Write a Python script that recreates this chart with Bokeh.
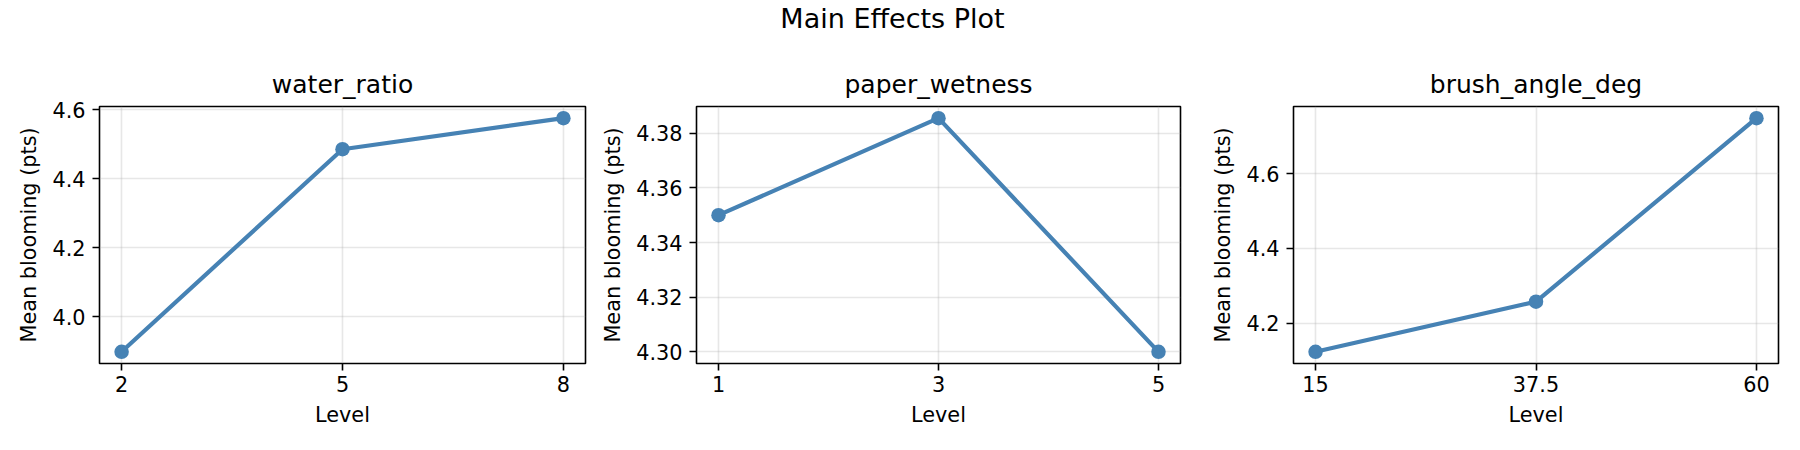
from bokeh.plotting import figure
from bokeh.layouts import column, row
from bokeh.models import Range1d, FixedTicker
from bokeh.embed import file_html
from bokeh.resources import INLINE

# ---- data ----
factors = ["water_ratio", "paper_wetness", "brush_angle_deg"]
water_levels = [2, 5, 8]
water_means = [3.898, 4.485, 4.575]
paper_levels = [1, 3, 5]
paper_means = [4.350, 4.3855, 4.300]
brush_levels = [15, 37.5, 60]
brush_means = [4.124, 4.258, 4.748]

water_xlabels = ["2", "5", "8"]
paper_xlabels = ["1", "3", "5"]
brush_xlabels = ["15", "37.5", "60"]

water_yticks = [4.0, 4.2, 4.4, 4.6]
water_ylabels = ["4.0", "4.2", "4.4", "4.6"]
paper_yticks = [4.30, 4.32, 4.34, 4.36, 4.38]
paper_ylabels = ["4.30", "4.32", "4.34", "4.36", "4.38"]
brush_yticks = [4.2, 4.4, 4.6]
brush_ylabels = ["4.2", "4.4", "4.6"]

suptitle = "Main Effects Plot"
xlabel = "Level"
ylabel = "Mean blooming (pts)"

# ---- style ----
FONT = "DejaVu Sans"
COLOR = "#4682b4"
TOP_H = 40
PANEL_H = 392
FRAME_TOP = 66
FRAME_BOTTOM_BORDER = 69


def span(vals, frac=0.05):
    lo, hi = min(vals), max(vals)
    d = (hi - lo) * frac
    return lo - d, hi + d


def panel(title, xs, ys, xlabels, yticks, ylabels, width, left, right):
    x0, x1 = span(xs)
    y0, y1 = span(ys)
    p = figure(width=width, height=PANEL_H, output_backend="svg", toolbar_location=None,
               x_range=Range1d(x0, x1), y_range=Range1d(y0, y1),
               min_border_left=left, min_border_right=right,
               min_border_top=FRAME_TOP, min_border_bottom=FRAME_BOTTOM_BORDER,
               title=title)
    p.title.text_font = FONT
    p.title.text_font_size = "25px"
    p.title.text_font_style = "normal"
    p.title.align = "center"
    p.title.text_color = "black"
    p.title.standoff = 15

    p.line(xs, ys, line_color=COLOR, line_width=4.2)
    p.scatter(xs, ys, size=14.5, fill_color=COLOR, line_color=None)

    p.xaxis.ticker = FixedTicker(ticks=list(xs))
    p.xaxis.major_label_overrides = {float(t): l for t, l in zip(xs, xlabels)}
    p.yaxis.ticker = FixedTicker(ticks=list(yticks))
    p.yaxis.major_label_overrides = {float(t): l for t, l in zip(yticks, ylabels)}

    for ax in (p.xaxis[0], p.yaxis[0]):
        ax.axis_line_color = None
        ax.major_tick_in = 0
        ax.major_tick_out = 7
        ax.major_tick_line_width = 1.6
        ax.major_tick_line_color = "black"
        ax.minor_tick_line_color = None
        ax.major_label_text_font = FONT
        ax.major_label_text_font_size = "20.8px"
        ax.major_label_text_color = "black"
        ax.axis_label_text_font = FONT
        ax.axis_label_text_font_size = "20.8px"
        ax.axis_label_text_font_style = "normal"
        ax.axis_label_text_color = "black"
    p.xaxis.major_label_standoff = 5
    p.xaxis.axis_label_standoff = 8
    p.yaxis.major_label_standoff = 7
    p.yaxis.axis_label_standoff = 8
    p.xaxis.axis_label = xlabel
    p.yaxis.axis_label = ylabel
    p.yaxis.major_label_orientation = "horizontal"

    p.grid.grid_line_color = "#b0b0b0"
    p.grid.grid_line_alpha = 0.3
    p.grid.grid_line_width = 1.6
    p.outline_line_color = "black"
    p.outline_line_width = 1.6
    p.outline_line_alpha = 1.0
    p.background_fill_color = "white"
    p.border_fill_color = "white"
    return p


p1 = panel(factors[0], water_levels, water_means, water_xlabels, water_yticks, water_ylabels, 593, 99, 8)
p2 = panel(factors[1], paper_levels, paper_means, paper_xlabels, paper_yticks, paper_ylabels, 595, 103, 8)
p3 = panel(factors[2], brush_levels, brush_means, brush_xlabels, brush_yticks, brush_ylabels, 596, 105, 6)

top = figure(width=1784, height=TOP_H, output_backend="svg", toolbar_location=None,
             x_range=Range1d(0, 1), y_range=Range1d(0, 1),
             min_border=0, title=suptitle)
top.title.text_font = FONT
top.title.text_font_size = "27px"
top.title.text_font_style = "normal"
top.title.align = "center"
top.title.text_color = "black"
top.title.standoff = 0
top.axis.visible = False
top.grid.visible = False
top.outline_line_color = None
top.border_fill_color = "white"
top.background_fill_color = "white"

layout = column(top, row(p1, p2, p3, spacing=0), spacing=0)

open("out.html", "w").write(file_html(layout, INLINE))
